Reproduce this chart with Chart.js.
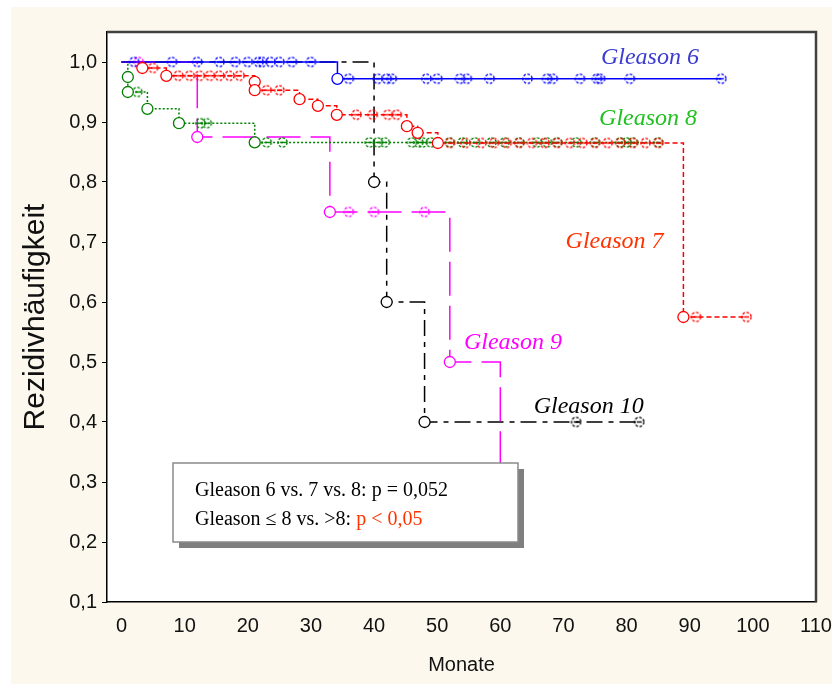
<!DOCTYPE html>
<html>
<head>
<meta charset="utf-8">
<script src="https://cdn.jsdelivr.net/npm/chart.js@4/dist/chart.umd.min.js"></script>
<style>
  html, body { margin: 0; padding: 0; background: #fff; }
  canvas { display: block; }
</style>
</head>
<body>
<canvas id="km" width="832" height="684"></canvas>
<script>
// axis ticks
const xTicks = [0, 10, 20, 30, 40, 50, 60, 70, 80, 90, 100, 110];
const yTicks = [0.1, 0.2, 0.3, 0.4, 0.5, 0.6, 0.7, 0.8, 0.9, 1.0];

// Gleason 6
const g6EventTimes = [34.2];
const g6EventValues = [0.972];
const g6CensorTimes = [2, 8, 12, 15.5, 18, 20, 21.7, 22.3, 23.6, 25, 27, 30, 36, 40.6, 42, 42.8,
    48.3, 50, 53.6, 54.7, 58.3, 64.3, 67.4, 68.3, 72.6, 75.3, 75.8, 80.5, 95];

// Gleason 7
const g7EventTimes = [3.3, 7.1, 21.1, 21.1, 28.2, 31.1, 34.1, 45.2, 46.9, 50.1, 89];
const g7EventValues = [0.99, 0.977, 0.967, 0.953, 0.938, 0.927, 0.912, 0.893, 0.882, 0.865, 0.575];
const g7CensorTimes = [5, 9, 10.8, 12.4, 14, 15.5, 17.1, 18.7, 23, 25, 37.2, 39.8, 42.2, 43.6,
    52, 54.5, 57, 59, 61, 63, 65, 67, 69, 71, 73, 75, 77, 79, 81, 83, 85, 91, 99];

// Gleason 8
const g8EventTimes = [1, 1, 4.1, 9.1, 21.1];
const g8EventValues = [0.975, 0.95, 0.922, 0.898, 0.866];
const g8CensorTimes = [2.5, 12.5, 13.5, 23, 25.5, 39.3, 40.6, 41.7, 46, 47, 47.7, 49, 52, 54, 56,
    58.6, 60.7, 63, 65.8, 67.4, 69, 72, 75, 79, 80, 81, 85];

// Gleason 9
const g9EventTimes = [12, 33, 52, 60];
const g9EventValues = [0.875, 0.75, 0.5, 0.25];
const g9CensorTimes = [2.7, 36, 40, 48];

// Gleason 10
const g10EventTimes = [40, 42, 48];
const g10EventValues = [0.8, 0.6, 0.4];
const g10CensorTimes = [72, 82];

const groups = [
    { name: "Gleason 6", color: "#0000ff", textColor: "#3b3bd0", dash: [], ev: g6EventTimes, val: g6EventValues, cens: g6CensorTimes, at: [83.7, 1.008] },
    { name: "Gleason 7", color: "#ff0000", textColor: "#ff3300", dash: [5, 3], ev: g7EventTimes, val: g7EventValues, cens: g7CensorTimes, at: [78.1, 0.70] },
    { name: "Gleason 8", color: "#008000", textColor: "#1fc01f", dash: [2, 2], ev: g8EventTimes, val: g8EventValues, cens: g8CensorTimes, at: [83.4, 0.905] },
    { name: "Gleason 9", color: "#ff00ff", textColor: "#ff00ff", dash: [34, 10], ev: g9EventTimes, val: g9EventValues, cens: g9CensorTimes, at: [62, 0.532] },
    { name: "Gleason 10", color: "#000000", textColor: "#000000", dash: [16, 6, 5, 6], ev: g10EventTimes, val: g10EventValues, cens: g10CensorTimes, at: [74, 0.425] }
];

// survival value at time t (step function)
function survAt(times, vals, t) {
    let s = 1;
    times.forEach((tt, i) => { if (tt <= t) s = vals[i]; });
    return s;
}

// small dashed circle used as censor mark
function censorMark(color) {
    const c = document.createElement("canvas");
    c.width = 13; c.height = 13;
    const g = c.getContext("2d");
    g.strokeStyle = color;
    g.lineWidth = 1.4;
    g.setLineDash([2.6, 1.6]);
    g.beginPath();
    g.arc(6.5, 6.5, 4.6, 0, Math.PI * 2);
    g.stroke();
    g.setLineDash([]);
    g.beginPath();
    g.moveTo(4, 6.5); g.lineTo(9, 6.5);
    g.stroke();
    return c;
}

// markers (order 0/1) sit on top of the step lines (order 2)
const datasets = [];
groups.forEach(gr => {
    const last = gr.val[gr.val.length - 1];
    const end = Math.max(gr.ev[gr.ev.length - 1], gr.cens.length ? gr.cens[gr.cens.length - 1] : 0);
    const steps = [{ x: 0, y: 1 }];
    gr.ev.forEach((t, i) => steps.push({ x: t, y: gr.val[i] }));
    steps.push({ x: end, y: last });
    datasets.push({
        label: gr.name,
        order: 2,
        data: steps,
        showLine: true,
        stepped: true,
        borderColor: gr.color,
        borderWidth: 1.5,
        borderDash: gr.dash,
        pointRadius: 0,
        fill: false
    });
    datasets.push({
        label: gr.name + " events",
        order: 0,
        data: gr.ev.map((t, i) => ({ x: t, y: gr.val[i] })),
        showLine: false,
        pointStyle: "circle",
        pointRadius: 5.5,
        pointBorderWidth: 1.3,
        pointBorderColor: gr.color,
        pointBackgroundColor: "#ffffff"
    });
    datasets.push({
        label: gr.name + " censored",
        order: 1,
        data: gr.cens.map(t => ({ x: t, y: survAt(gr.ev, gr.val, t) })),
        showLine: false,
        pointStyle: censorMark(gr.color)
    });
});

const framePlugin = {
    id: "frame",
    beforeDraw(chart) {
        const ctx = chart.ctx, a = chart.chartArea;
        ctx.save();
        ctx.fillStyle = "#fdf8ed";
        ctx.fillRect(11, 7, chart.width - 11, chart.height - 7);
        ctx.fillStyle = "#ffffff";
        ctx.fillRect(a.left, a.top, a.right - a.left, a.bottom - a.top);
        ctx.restore();
    },
    afterDraw(chart) {
        const ctx = chart.ctx, a = chart.chartArea;
        const xs = chart.scales.x, ys = chart.scales.y;
        ctx.save();
        // top and right frame
        ctx.strokeStyle = "#404040";
        ctx.lineWidth = 2.5;
        ctx.beginPath();
        ctx.moveTo(a.left, a.top);
        ctx.lineTo(a.right, a.top);
        ctx.lineTo(a.right, a.bottom);
        ctx.stroke();

        // curve labels
        ctx.font = "italic 24px 'Liberation Serif', 'Times New Roman', serif";
        ctx.textAlign = "center";
        ctx.textBaseline = "middle";
        groups.forEach(gr => {
            ctx.fillStyle = gr.textColor;
            ctx.fillText(gr.name, xs.getPixelForValue(gr.at[0]), ys.getPixelForValue(gr.at[1]));
        });

        // p-value box
        const bx = 173, by = 463, bw = 345, bh = 79;
        ctx.fillStyle = "#7f7f7f";
        ctx.fillRect(bx + 6, by + 6, bw, bh);
        ctx.fillStyle = "#ffffff";
        ctx.fillRect(bx, by, bw, bh);
        ctx.strokeStyle = "#8a8a8a";
        ctx.lineWidth = 1.5;
        ctx.strokeRect(bx, by, bw, bh);
        ctx.font = "20px 'Liberation Serif', 'Times New Roman', serif";
        ctx.textAlign = "left";
        ctx.textBaseline = "alphabetic";
        ctx.fillStyle = "#000000";
        ctx.fillText("Gleason 6 vs. 7 vs. 8: p = 0,052", 195, 496);
        const part = "Gleason \u2264 8 vs. >8: ";
        ctx.fillText(part, 195, 525);
        ctx.fillStyle = "#ff3300";
        ctx.fillText("p < 0,05", 195 + ctx.measureText(part).width, 525);
        ctx.restore();
    }
};

new Chart(document.getElementById("km").getContext("2d"), {
    type: "scatter",
    data: { datasets: datasets },
    options: {
        responsive: false,
        animation: false,
        events: [],
        layout: { padding: { top: 32, right: 16, bottom: 0, left: 0 } },
        plugins: { legend: { display: false }, tooltip: { enabled: false } },
        scales: {
            x: {
                type: "linear",
                min: -2.3,
                max: 110,
                afterBuildTicks: s => { s.ticks = xTicks.map(v => ({ value: v })); },
                afterFit: s => { s.height = 82; s.paddingLeft = 0; s.paddingRight = 0; },
                grid: { drawOnChartArea: false, drawTicks: false },
                border: { color: "#000", width: 1.5 },
                ticks: { padding: 12, color: "#111", font: { family: "'Liberation Sans', Arial, sans-serif", size: 20 }, callback: v => String(v) },
                title: { display: true, text: "Monate", color: "#111", padding: { top: 0, bottom: 7 }, font: { family: "'Liberation Sans', Arial, sans-serif", size: 20 } }
            },
            y: {
                type: "linear",
                min: 0.1,
                max: 1.05,
                afterBuildTicks: s => { s.ticks = yTicks.map(v => ({ value: v })); },
                afterFit: s => { s.width = 107; s.paddingTop = 0; s.paddingBottom = 0; },
                grid: { drawOnChartArea: false, drawTicks: true, tickLength: 5, color: "#000" },
                border: { color: "#000", width: 1.5 },
                ticks: { padding: 5, color: "#111", font: { family: "'Liberation Sans', Arial, sans-serif", size: 20 }, callback: v => v.toFixed(1).replace(".", ",") },
                title: { display: true, text: "Rezidivhäufigkeit", color: "#111", padding: { top: 18, bottom: 0 }, font: { family: "'Liberation Sans', Arial, sans-serif", size: 30 } }
            }
        }
    },
    plugins: [framePlugin]
});
</script>
</body>
</html>
